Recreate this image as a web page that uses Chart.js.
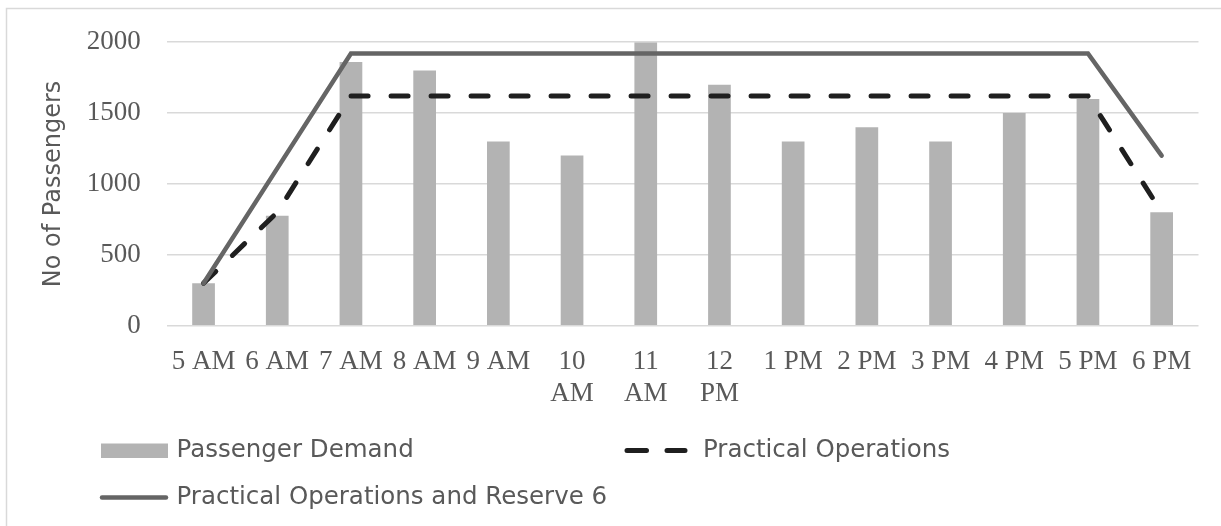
<!DOCTYPE html>
<html>
<head>
<meta charset="utf-8">
<script src="https://cdn.jsdelivr.net/npm/chart.js@4.4.1/dist/chart.umd.min.js"></script>
<style>
  html, body { margin: 0; padding: 0; background: #ffffff; }
  #wrap { width: 1221px; height: 526px; position: relative; }
</style>
</head>
<body>
<div id="wrap"><canvas id="c" width="1221" height="526"></canvas></div>
<script>
// ---- data ----
const categories = ['5 AM', '6 AM', '7 AM', '8 AM', '9 AM', ['10', 'AM'], ['11', 'AM'], ['12', 'PM'],
                    '1 PM', '2 PM', '3 PM', '4 PM', '5 PM', '6 PM'];
const passengerDemand = [300, 775, 1860, 1800, 1300, 1200, 2000, 1700, 1300, 1400, 1300, 1500, 1600, 800];
const practicalOperations = [300, 800, 1620, 1620, 1620, 1620, 1620, 1620, 1620, 1620, 1620, 1620, 1620, 800];
const practicalReserve6 = [300, 1110, 1920, 1920, 1920, 1920, 1920, 1920, 1920, 1920, 1920, 1920, 1920, 1200];
const yTicks = [0, 500, 1000, 1500, 2000];
const seriesNames = ['Passenger Demand', 'Practical Operations', 'Practical Operations and Reserve 6'];
const yTitle = 'No of Passengers';

const BAR = '#b3b3b3';
const DASH = '#1f1f1f';
const SOLID = '#656565';
const TEXT = '#595959';
const GRID = '#d9d9d9';

const borderPlugin = {
  id: 'outerBorder',
  beforeDraw(chart) {
    const ctx = chart.ctx;
    ctx.save();
    ctx.fillStyle = '#ffffff';
    ctx.fillRect(0, 0, chart.width, chart.height);
    ctx.strokeStyle = GRID;
    ctx.lineWidth = 1.5;
    ctx.strokeRect(6.5, 8.5, 1400, 700);
    ctx.restore();
  }
};

const legendPlugin = {
  id: 'customLegend',
  afterDraw(chart) {
    const ctx = chart.ctx;
    const ds = chart.data.datasets;
    // layout slots for the legend entries: [swatchX, swatchW, textX, y]
    const slots = [
      [101, 67, 176.5, 450.5],
      [625, 62, 703, 450.5],
      [100, 68, 176.5, 497.5]
    ];
    ctx.save();
    ctx.font = '24.5px "DejaVu Sans"';
    ctx.textBaseline = 'middle';
    ctx.textAlign = 'left';
    ds.forEach((d, i) => {
      const [sx, sw, tx, y] = slots[i];
      if (d.type === 'bar') {
        ctx.fillStyle = d.backgroundColor;
        ctx.fillRect(sx, y - 7, sw, 14.5);
      } else {
        ctx.strokeStyle = d.borderColor;
        ctx.lineWidth = d.borderWidth;
        ctx.lineCap = 'round';
        if (d.borderDash && d.borderDash.length) {
          ctx.setLineDash([19.5, 20.5]);
        } else {
          ctx.setLineDash([]);
        }
        ctx.beginPath();
        ctx.moveTo(sx + 2, y);
        ctx.lineTo(sx + sw - 2, y);
        ctx.stroke();
        ctx.setLineDash([]);
      }
      ctx.fillStyle = TEXT;
      ctx.fillText(d.label, tx, y);
    });
    ctx.restore();
  }
};

new Chart(document.getElementById('c'), {
  data: {
    labels: categories,
    datasets: [
      {
        type: 'bar',
        label: seriesNames[0],
        data: passengerDemand,
        backgroundColor: BAR,
        borderWidth: 0,
        categoryPercentage: 1,
        barPercentage: 0.308,
        order: 3
      },
      {
        type: 'line',
        label: seriesNames[1],
        data: practicalOperations,
        borderColor: DASH,
        backgroundColor: DASH,
        borderWidth: 5,
        borderDash: [17, 23],
        borderCapStyle: 'round',
        pointRadius: 0,
        tension: 0,
        fill: false,
        order: 2
      },
      {
        type: 'line',
        label: seriesNames[2],
        data: practicalReserve6,
        borderColor: SOLID,
        backgroundColor: SOLID,
        borderWidth: 4.5,
        borderCapStyle: 'round',
        borderJoinStyle: 'miter',
        pointRadius: 0,
        tension: 0,
        fill: false,
        order: 1
      }
    ]
  },
  options: {
    responsive: false,
    devicePixelRatio: 1,
    animation: false,
    layout: { padding: { left: 0, right: 22.5, top: 37.3, bottom: 110.3 } },
    plugins: {
      legend: { display: false },
      tooltip: { enabled: false },
      title: { display: false }
    },
    scales: {
      x: {
        type: 'category',
        offset: true,
        grid: { display: false, drawTicks: false },
        border: { display: false },
        ticks: {
          color: TEXT,
          font: { family: '"Liberation Serif"', size: 27, lineHeight: 1.2 },
          padding: 20,
          maxRotation: 0,
          minRotation: 0,
          autoSkip: false
        },
        afterFit(scale) { scale.height = 90; }
      },
      y: {
        min: 0,
        max: 2000,
        afterBuildTicks(scale) { scale.ticks = yTicks.map(v => ({ value: v })); },
        grid: { color: GRID, lineWidth: 1.5, drawTicks: false },
        border: { display: false },
        ticks: {
          color: TEXT,
          font: { family: '"Liberation Serif"', size: 27 },
          padding: 26,
          callback: (v) => String(v)
        },
        title: {
          display: true,
          text: yTitle,
          color: TEXT,
          font: { family: '"DejaVu Sans"', size: 24 },
          padding: { top: 39, bottom: 0 }
        },
        afterFit(scale) { scale.width = 166.7; }
      }
    }
  },
  plugins: [borderPlugin, legendPlugin]
});
</script>
</body>
</html>
